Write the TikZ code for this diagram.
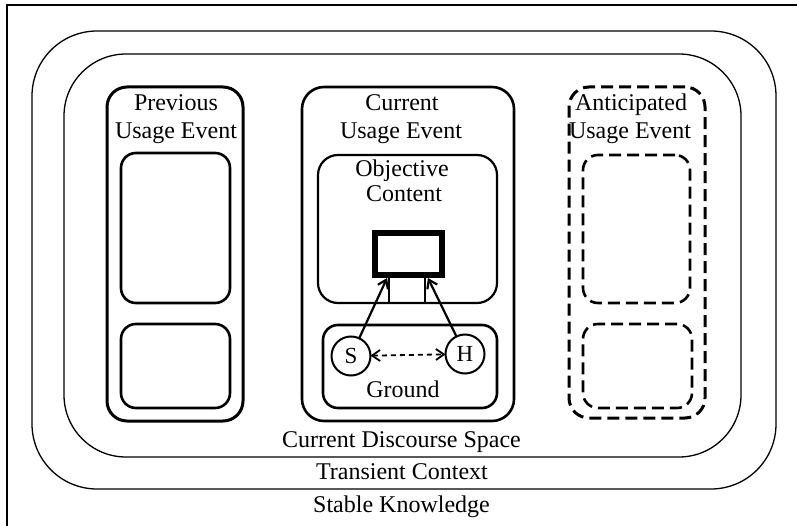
\documentclass[tikz,border=0pt]{standalone}
\usepackage{fontspec}
\setmainfont{Liberation Serif}
\usetikzlibrary{arrows.meta,calc}
\begin{document}
\begin{tikzpicture}[x=1pt,y=-1pt,
  region/.style={draw, line width=1.3pt, inner sep=0pt, outer sep=0pt},
  ebox/.style={draw, line width=3pt, inner sep=0pt, outer sep=0pt, rounded corners=20pt},
  sbox/.style={draw, line width=2.6pt, inner sep=0pt, outer sep=0pt, rounded corners=15pt},
  dbox/.style={ebox, dash pattern=on 12pt off 6pt},
  dsbox/.style={sbox, dash pattern=on 12pt off 6pt},
  lbl/.style={font=\fontsize{24}{28}\selectfont, inner sep=0pt, anchor=base},
  person/.style={draw, circle, line width=2pt, minimum size=39pt, inner sep=0pt, outer sep=0pt, font=\fontsize{23}{26}\selectfont},
  conn/.style={line width=2.2pt, -{Straight Barb[length=8pt,width=11pt,line width=2.2pt]}},
]
\useasboundingbox (0,0) rectangle (797,526);
\fill[white] (0,0) rectangle (797,526);
% outer frame (right and bottom edges lie outside the picture)
\draw[line width=1.6pt] (7,526) |- (797,5);
% nested regions
\node[region, rounded corners=65pt, minimum width=744pt, minimum height=458pt] (trans) at (404,260) {};
\node[region, rounded corners=62pt, minimum width=677pt, minimum height=403pt] (cds) at (402.5,255.5) {};
% previous usage event
\node[ebox, minimum width=136pt, minimum height=334pt] (prev) at (175,254) {};
\node[sbox, minimum width=109pt, minimum height=150pt] (prevA) at (175.5,228) {};
\node[sbox, minimum width=109pt, minimum height=84pt] (prevB) at (175.5,366) {};
\node[lbl] (prevT1) at (176,111) {Previous};
\node[lbl] (prevT2) at (176,139) {Usage Event};
% current usage event
\node[ebox, line width=2.6pt, rounded corners=22pt, minimum width=212pt, minimum height=334pt] (cur) at (408,254) {};
\node[sbox, line width=2.2pt, rounded corners=20pt, minimum width=179pt, minimum height=148pt] (obj) at (407.5,229) {};
\node[sbox, minimum width=174pt, minimum height=83pt] (ground) at (410,366.5) {};
\node[lbl] (curT1) at (402,111) {Current};
\node[lbl] (curT2) at (401,139) {Usage Event};
\node[lbl] (objT1) at (402,177) {Objective};
\node[lbl] (objT2) at (404,202) {Content};
\node[lbl] (grT) at (403,397) {Ground};
\node[draw, line width=6pt, inner sep=0pt, outer sep=0pt, minimum width=67pt, minimum height=42pt] (prof) at (408.5,254) {};
\coordinate (legL) at ($(prof.south west)!0.21!(prof.south east)$);
\coordinate (legR) at ($(prof.south west)!0.75!(prof.south east)$);
\draw[line width=2pt] (legL) -- (legL |- obj.south);
\draw[line width=2pt] (legR) -- (legR |- obj.south);
\node[person] (S) at (351,356) {S};
\node[person] (H) at (465,354) {H};
\coordinate (tipS) at ([yshift=-3pt]$(prof.south west)!0.18!(prof.south east)$);
\coordinate (tipH) at ([yshift=-3pt]$(prof.south west)!0.79!(prof.south east)$);
\draw[conn] (S) -- (tipS);
\draw[conn] (H) -- (tipH);
\draw[line width=1.8pt, dash pattern=on 5pt off 4pt, {Straight Barb[length=8pt,width=11pt,line width=1.8pt]}-{Straight Barb[length=8pt,width=11pt,line width=1.8pt]}] (S) -- (H);
% anticipated usage event
\node[dbox, minimum width=136pt, minimum height=331pt] (ant) at (637,252.5) {};
\node[dsbox, minimum width=107pt, minimum height=148pt] (antA) at (636.5,229) {};
\node[dsbox, minimum width=109pt, minimum height=84pt] (antB) at (637.5,366) {};
\node[lbl] (antT1) at (631,111) {Anticipated};
\node[lbl] (antT2) at (630,139) {Usage Event};
% region labels
\node[lbl] (cdsT) at (401.5,447) {Current Discourse Space};
\node[lbl] (transT) at (402,479) {Transient Context};
\node[lbl] (stabT) at (401.5,512) {Stable Knowledge};
\end{tikzpicture}
\end{document}
